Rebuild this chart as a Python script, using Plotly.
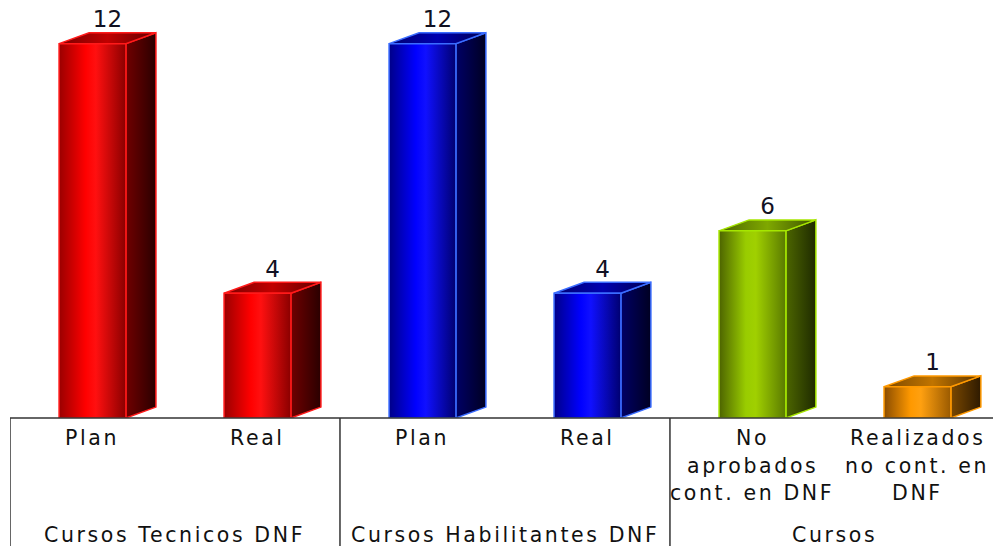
import plotly.graph_objects as go

# data
categorias = ["Plan", "Real", "Plan", "Real", "No<br>aprobados<br>cont. en DNF", "Realizados<br>no cont. en<br>DNF"]
grupos = ["Cursos Tecnicos DNF", "Cursos Habilitantes DNF", "Cursos"]
grupo_centros = [0.5, 2.5, 4.5]
valores = [12, 4, 12, 4, 6, 1]

# palette per bar: front (edge, mid, edge), side (near, far), top, outline
rojo = dict(front=["#9a0000", "#ff0000", "#ff1010", "#8a0000"], side=["#700000", "#2a0000"],
            top=["#7a0000", "#c00000", "#600000"], line="#ff1a1a")
azul = dict(front=["#000088", "#0000ff", "#1010ff", "#000070"], side=["#000066", "#000022"],
            top=["#000070", "#0000b0", "#000050"], line="#3a6cff")
verde = dict(front=["#4d6400", "#99cc00", "#a0d000", "#5a7a00"], side=["#4d6600", "#1e2a00"],
             top=["#4d6600", "#7fa800", "#3d5200"], line="#a6e600")
naranja = dict(front=["#8a4c00", "#ff9900", "#ffa010", "#9a5a00"], side=["#7a4800", "#2e1a00"],
               top=["#7a4800", "#c07400", "#5a3400"], line="#ff9900")
colores = [rojo, rojo, azul, azul, verde, naranja]

ancho = 0.405     # front face width (x units)
dx, dy = 0.182, 0.35   # depth offset

fig = go.Figure()


def cara(xs, ys, escala, tipo, linea):
    fig.add_trace(go.Scatter(
        x=xs, y=ys, fill="toself", mode="lines",
        line=dict(color=linea, width=1.5),
        fillgradient=dict(type=tipo, colorscale=escala),
        hoverinfo="skip", showlegend=False))


for i, (v, c) in enumerate(zip(valores, colores)):
    x0, x1 = i - ancho / 2, i + ancho / 2
    # side face
    cara([x1, x1 + dx, x1 + dx, x1, x1], [0, dy, v + dy, v, 0],
         [[0, c["side"][0]], [1, c["side"][1]]], "horizontal", c["line"])
    # top face
    cara([x0, x1, x1 + dx, x0 + dx, x0], [v, v, v + dy, v + dy, v],
         [[0, c["top"][0]], [0.5, c["top"][1]], [1, c["top"][2]]], "horizontal", c["line"])
    # front face
    cara([x0, x1, x1, x0, x0], [0, 0, v, v, 0],
         [[0, c["front"][0]], [0.4, c["front"][1]], [0.55, c["front"][2]], [1, c["front"][3]]],
         "horizontal", c["line"])

# value labels
fig.add_trace(go.Scatter(
    x=[i + dx / 2 for i in range(len(valores))], y=[v + dy for v in valores],
    mode="text", text=[str(v) for v in valores], textposition="top center",
    textfont=dict(family="DejaVu Sans", size=23, color="#111122"),
    hoverinfo="skip", showlegend=False))

esp = '<span style="letter-spacing:2.6px">{}</span>'
fuente = dict(family="DejaVu Sans", size=20.5, color="#111111")

anots = []
for i, cat in enumerate(categorias):
    for k, linea in enumerate(cat.split("<br>")):
        anots.append(dict(x=i, y=0, xref="x", yref="paper", yanchor="middle",
                          yshift=-20 - 27.5 * k, text=esp.format(linea),
                          showarrow=False, font=fuente))
for g, xc in zip(grupos, grupo_centros):
    anots.append(dict(x=xc, y=0, xref="x", yref="paper", yanchor="middle",
                      yshift=-117, text=esp.format(g), showarrow=False, font=fuente))

# table lines under the axis
lineas = [dict(type="line", xref="paper", yref="paper", x0=0, x1=1, y0=0, y1=0,
               line=dict(color="#333333", width=1.5))]
for xs in [-0.5, 1.5, 3.5]:
    lineas.append(dict(type="line", xref="x", yref="paper", x0=xs, x1=xs, y0=0, y1=-0.31,
                       line=dict(color="#333333", width=1.5)))

fig.update_layout(
    width=993, height=546,
    margin=dict(l=10, r=0, t=0, b=128),
    plot_bgcolor="white", paper_bgcolor="white",
    xaxis=dict(range=[-0.5, 5.458], showgrid=False, zeroline=False, showticklabels=False,
               showline=False, fixedrange=True),
    yaxis=dict(range=[0, 13.4], showgrid=False, zeroline=False, showticklabels=False,
               showline=False, fixedrange=True),
    annotations=anots, shapes=lineas,
)

fig.write_html("out.html", config={"displayModeBar": False},
               post_script="document.body.style.margin='0px';")
